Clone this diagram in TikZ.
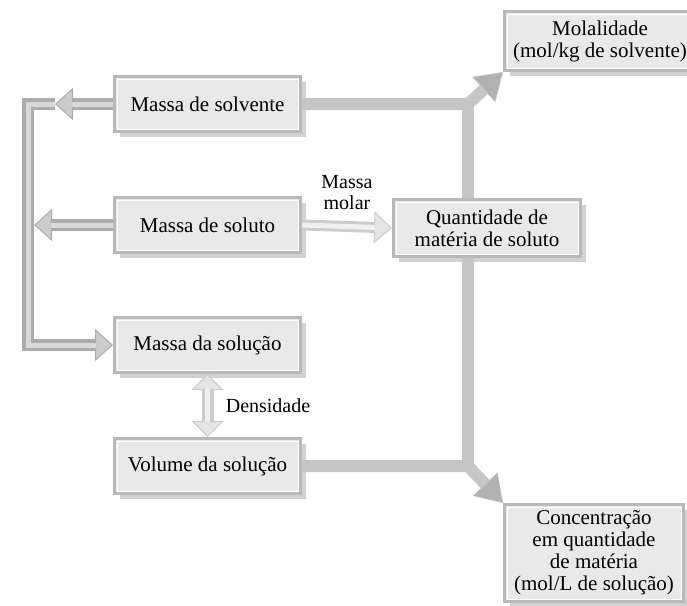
\documentclass[tikz,border=0pt]{standalone}
\usepackage{fontspec}
\setmainfont{Liberation Serif}
\usetikzlibrary{arrows.meta,shadows}
\newcommand\nodefont{\fontsize{21}{22}\selectfont}
\newcommand\lblfont{\fontsize{20}{21}\selectfont}
\begin{document}
\begin{tikzpicture}[
    x=1pt, y=-1pt,
    % Define styles
    box/.style={
        draw=gray!55,
        line width=3pt,
        fill=gray!17,
        align=center,
        font=\nodefont,
        inner sep=2pt,
        drop shadow={shadow xshift=5pt, shadow yshift=-5pt, fill=gray!45, opacity=0.8},
        path picture={
            \draw[white, line width=0.8pt]
                ([shift={(2.6pt,-2.6pt)}]path picture bounding box.north west)
                rectangle ([shift={(-2.6pt,2.6pt)}]path picture bounding box.south east);
        }
    },
    smallbox/.style={box, minimum width=186pt, minimum height=55pt},
    hollow/.style={
        draw=gray!65,
        line width=12pt,
        -{Triangle[length=18pt, width=32pt, line width=1pt, fill=gray!40]},
        postaction={draw=gray!30, line width=5pt, -, shorten >=17pt}
    },
    lighthollow/.style={
        draw=gray!40,
        line width=11pt,
        -{Triangle[length=18pt, width=32pt, line width=1pt, fill=gray!20]},
        postaction={draw=gray!12, line width=5pt, -, shorten >=17pt}
    },
    lighthollowboth/.style={
        draw=gray!40,
        line width=12pt,
        {Triangle[length=16pt, width=32pt, line width=1pt, fill=gray!20]}-{Triangle[length=16pt, width=32pt, line width=1pt, fill=gray!20]},
        postaction={draw=gray!12, line width=5pt, -, shorten >=15pt, shorten <=15pt}
    },
    flow/.style={
        draw=gray!45,
        line width=12pt,
        line join=miter
    },
    flowhead/.style={
        flow,
        -{Triangle[length=26pt, width=34pt, line width=0.5pt, fill=gray!60]}
    },
    label_text/.style={
        font=\lblfont,
        align=center,
        text=black
    }
]
    \useasboundingbox (0,0) rectangle (687,605);

    % --- Left Column ---
    \node[smallbox] (solv) at (207.5,104) {Massa de solvente};
    \node[smallbox] (solu) at (207.5,225) {Massa de soluto};
    \node[smallbox] (msol) at (207.5,345) {Massa da solução};
    \node[smallbox] (vsol) at (207.5,466) {Volume da solução};

    % --- Right Column ---
    \node[box, minimum width=187pt, minimum height=57pt] (quant) at (487,228)
        {Quantidade de\\matéria de soluto};
    \node[box, minimum width=191pt, minimum height=59pt] (mola) at (600,41)
        {Molalidade\\(mol/kg de solvente)};
    \node[box, minimum width=179pt, minimum height=97pt] (conc) at (594,553)
        {Concentração\\em quantidade\\de matéria\\(mol/L de solução)};

    % Junction points
    \coordinate (ltop) at (55,104);
    \coordinate (lbar) at (28,104);
    \coordinate (lmid) at (34,225);
    \coordinate (jtop) at (468,104);
    \coordinate (jbot) at (468,466);

    % --- Right flows ---
    \draw[flow] (jtop |- quant.north) -- (jtop);
    \draw[flow] (jbot |- quant.south) -- (jbot);
    \draw[flowhead] (solv.east) -- (jtop) -- (mola.south west);
    \draw[flowhead] (vsol.east) -- (jbot) -- (conc.north west);

    % --- Left bar ---
    \draw[hollow] (ltop) -- (lbar) |- (msol.west);
    \draw[hollow] (solv.west) -- (ltop);
    \draw[hollow] (solu.west) -- (lmid);

    % Massa molar and Densidade
    \draw[lighthollow] (solu.east) -- (quant.west)
        node[label_text, midway, above=8pt] {Massa\\molar};
    \draw[lighthollowboth] (msol.south) -- (vsol.north)
        node[label_text, midway, right=9pt] {Densidade};

\end{tikzpicture}
\end{document}
